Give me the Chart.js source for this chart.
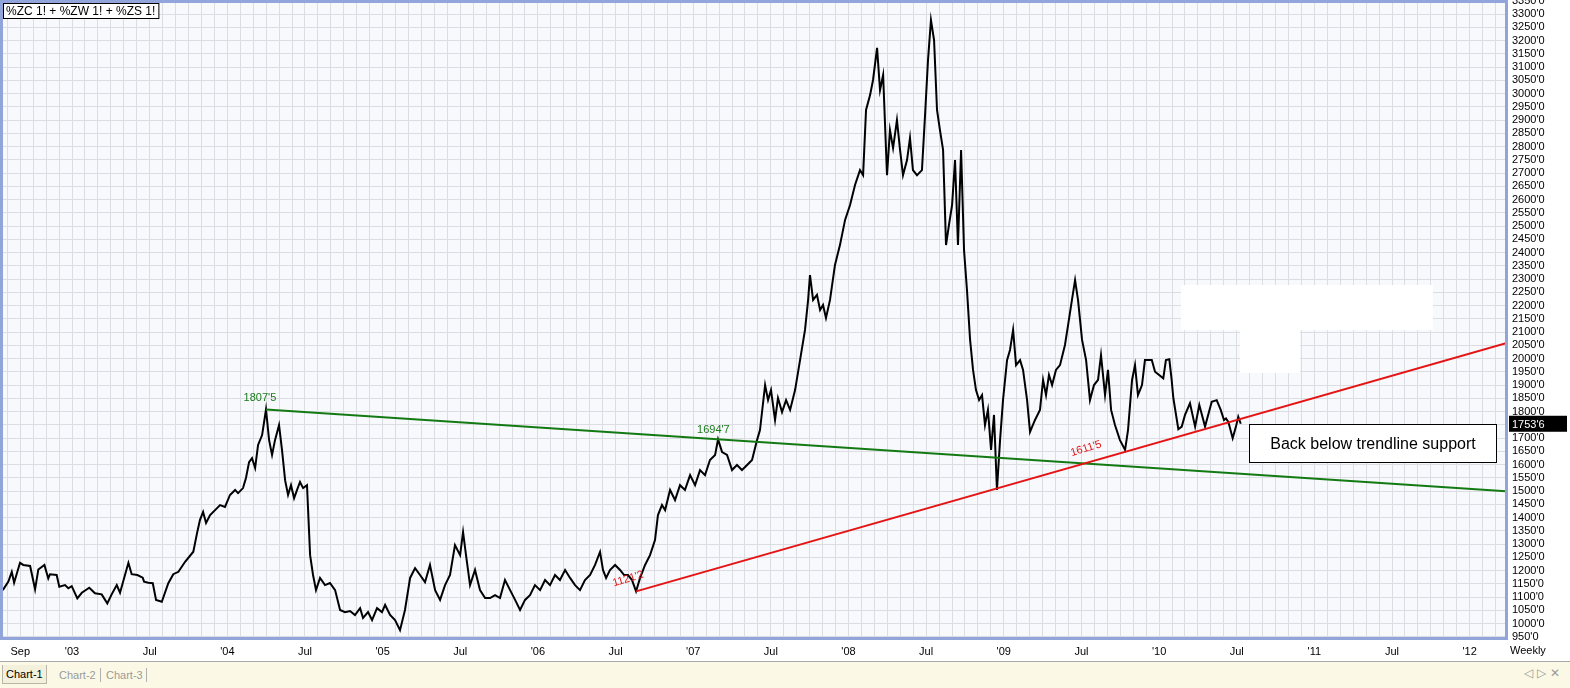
<!DOCTYPE html>
<html><head><meta charset="utf-8">
<script src="https://cdn.jsdelivr.net/npm/chart.js@4/dist/chart.umd.min.js"></script>
<style>
html,body{margin:0;padding:0;background:#fff;width:1570px;height:688px;overflow:hidden;font-family:'Liberation Sans',Arial,sans-serif}
#wrap{position:absolute;left:0;top:0;width:1570px;height:662px}
#tabs{position:absolute;left:0;top:661px;width:1570px;height:27px;background:#fbf9e6;border-top:1px solid #a8a8a8;box-sizing:border-box;font-size:11px}
.tab{position:absolute;top:4px;height:18px;line-height:18px;color:#9a9a9a;padding:0 3px}
.tab.sel{color:#000;background:#f3f0dc;border:1px solid #b8b6a6;border-top:none;top:3px}
.sep{position:absolute;top:6px;width:1px;height:14px;background:#b0b0b0}
#nav{position:absolute;right:6px;top:4px;color:#9a9a9a;font-size:12px;letter-spacing:4px}
</style></head>
<body>
<div id="wrap"><canvas id="c" width="1570" height="662"></canvas></div>
<div id="tabs">
 <span class="tab sel" style="left:2px">Chart-1</span>
 <span class="tab" style="left:56px">Chart-2</span><span class="sep" style="left:100px"></span>
 <span class="tab" style="left:103px">Chart-3</span><span class="sep" style="left:146px"></span>
 <span id="nav">◁▷✕</span>
</div>
<script>
// ---- data (decimal year, price) ----
const dates = [2002.554,2002.590,2002.612,2002.627,2002.665,2002.686,2002.730,2002.762,2002.783,2002.822,
2002.847,2002.858,2002.901,2002.918,2002.955,2002.976,2002.998,2003.034,2003.063,2003.111,
2003.148,2003.191,2003.227,2003.256,2003.288,2003.309,2003.363,2003.384,2003.421,2003.455,
2003.464,2003.491,2003.520,2003.541,2003.578,2003.620,2003.652,2003.685,2003.728,2003.781,
2003.805,2003.824,2003.844,2003.863,2003.889,2003.921,2003.953,2003.985,2004.017,2004.050,
2004.069,2004.101,2004.120,2004.140,2004.159,2004.179,2004.198,2004.224,2004.249,2004.269,
2004.288,2004.307,2004.333,2004.352,2004.372,2004.391,2004.410,2004.430,2004.449,2004.468,
2004.488,2004.513,2004.533,2004.552,2004.571,2004.597,2004.629,2004.661,2004.694,2004.726,
2004.758,2004.790,2004.822,2004.855,2004.874,2004.906,2004.932,2004.964,2004.996,2005.016,
2005.048,2005.080,2005.112,2005.144,2005.177,2005.209,2005.241,2005.273,2005.305,2005.338,
2005.370,2005.402,2005.434,2005.466,2005.499,2005.518,2005.537,2005.563,2005.595,2005.627,
2005.660,2005.692,2005.724,2005.756,2005.788,2005.821,2005.853,2005.885,2005.917,2005.949,
2005.981,2006.014,2006.046,2006.078,2006.110,2006.142,2006.175,2006.207,2006.239,2006.271,
2006.303,2006.336,2006.368,2006.400,2006.419,2006.439,2006.464,2006.497,2006.529,2006.555,
2006.580,2006.606,2006.632,2006.658,2006.690,2006.722,2006.754,2006.773,2006.799,2006.819,
2006.851,2006.883,2006.915,2006.947,2006.980,2007.012,2007.044,2007.076,2007.108,2007.141,
2007.160,2007.186,2007.218,2007.250,2007.282,2007.314,2007.347,2007.379,2007.411,2007.430,
2007.463,2007.482,2007.501,2007.527,2007.546,2007.572,2007.598,2007.624,2007.656,2007.688,
2007.720,2007.740,2007.752,2007.772,2007.797,2007.817,2007.836,2007.855,2007.881,2007.913,
2007.945,2007.978,2008.010,2008.042,2008.074,2008.094,2008.113,2008.139,2008.158,2008.184,
2008.203,2008.223,2008.248,2008.267,2008.287,2008.312,2008.332,2008.351,2008.377,2008.396,
2008.415,2008.441,2008.473,2008.493,2008.512,2008.531,2008.551,2008.570,2008.589,2008.609,
2008.628,2008.647,2008.667,2008.686,2008.705,2008.725,2008.744,2008.763,2008.783,2008.802,
2008.821,2008.841,2008.860,2008.879,2008.898,2008.918,2008.937,2008.956,2008.976,2008.995,
2009.021,2009.040,2009.060,2009.079,2009.105,2009.124,2009.150,2009.169,2009.201,2009.233,
2009.253,2009.272,2009.291,2009.311,2009.336,2009.362,2009.394,2009.414,2009.439,2009.459,
2009.478,2009.504,2009.530,2009.555,2009.581,2009.607,2009.626,2009.652,2009.671,2009.691,
2009.716,2009.748,2009.781,2009.800,2009.826,2009.845,2009.864,2009.890,2009.909,2009.953,
2009.974,2010.027,2010.044,2010.066,2010.081,2010.092,2010.124,2010.146,2010.167,2010.199,
2010.232,2010.259,2010.296,2010.339,2010.371,2010.397,2010.418,2010.431,2010.446,2010.474,
2010.495,2010.510,2010.526];
const prices = [1126,1158,1195,1154,1229,1221,1217,1129,1204,1221,
1170,1186,1183,1139,1145,1133,1141,1095,1116,1135,
1114,1110,1076,1111,1145,1116,1229,1186,1183,1173,
1158,1154,1152,1089,1082,1152,1186,1195,1233,1271,
1341,1391,1421,1379,1409,1428,1447,1440,1485,1504,
1492,1511,1549,1609,1624,1587,1674,1711,1807.5,1692,
1636,1692,1749,1655,1541,1485,1522,1473,1504,1534,
1511,1522,1258,1183,1126,1172,1145,1153,1126,1051,
1043,1047,1032,1058,1021,1043,1013,1058,1043,1070,
1032,1013,975,1051,1172,1209,1183,1156,1221,1126,
1089,1145,1183,1296,1258,1345,1258,1145,1202,1126,
1096,1096,1107,1096,1164,1126,1089,1051,1089,1107,
1145,1126,1164,1145,1183,1164,1202,1172,1145,1126,
1164,1183,1221,1270,1202,1172,1202,1221,1202,1183,
1183,1164,1121.25,1172,1221,1258,1315,1409,1447,1428,
1504,1466,1522,1504,1560,1522,1579,1560,1617,1636,
1694.875,1647,1636,1579,1598,1579,1598,1617,1692,1730,
1900,1843,1881,1768,1851,1798,1843,1806,1881,1994,
2108,2221,2315,2221,2240,2183,2202,2153,2221,2353,
2428,2523,2579,2655,2711,2692,2938,2994,3051,3172,
3013,3070,2692,2862,2794,2900,2787,2692,2749,2832,
2711,2692,2711,2919,3126,3277,3202,2938,2862,2787,
2428,2504,2579,2749,2428,2787,2409,2258,2070,1957,
1881,1843,1862,1749,1806,1655,1787,1504,1692,1843,
1994,2032,2108,1975,1994,1957,1843,1723,1768,1806,
1919,1862,1938,1900,1957,1975,2051,2126,2221,2296,
2221,2070,1994,1843,1900,1919,2013,1862,1957,1806,
1749,1692,1655,1730,1919,1975,1862,1900,1994,1994,
1950,1925,1994,1997,1919,1850,1733,1743,1787,1831,
1743,1825,1743,1837,1843,1806,1768,1774,1761,1699,
1743,1780,1753.75];
const lastPriceText = "1753'6";
// trendlines (decimal year, price)
const greenTrendX = [2004.249, 2012.234];
const greenTrendY = [1807.5, 1498.6];
const redTrendX = [2006.632, 2012.234];
const redTrendY = [1121.25, 2058];
// point labels
const pointLabelText = ["1807'5", "1694'7", "1611'5", "1121'2"];
const pointLabelX = [2004.21, 2007.13, 2009.53, 2006.58];
const pointLabelY = [1850, 1730, 1660, 1168];
const pointLabelColor = ['#1a7a1a', '#1a7a1a', '#e01818', '#e01818'];
const pointLabelAngle = [0, 0, -17, -17];
// x tick labels
const xLabelPos = [2002+8/12, 2003, 2003.5, 2004, 2004.5, 2005, 2005.5, 2006, 2006.5, 2007, 2007.5,
  2008, 2008.5, 2009, 2009.5, 2010, 2010.5, 2011, 2011.5, 2012];
const xLabelText = ['Sep', "'03", 'Jul', "'04", 'Jul', "'05", 'Jul', "'06", 'Jul', "'07", 'Jul',
  "'08", 'Jul', "'09", 'Jul', "'10", 'Jul', "'11", 'Jul', "'12"];
const xMin = 2002.549, xMax = 2012.234;
const yMin = 945.3, yMax = 3345.3, yStep = 50;
const legendText = '%ZC 1! + %ZW 1! + %ZS 1!';
const noteText = 'Back below trendline support';
const noteBox = {x0: 2010.579, x1: 2012.169, y0: 1753, y1: 1609};
// blanked (white) areas of the plot, in data units
const blankX0 = [2010.141, 2010.521], blankX1 = [2011.764, 2010.908];
const blankY0 = [2277, 2107], blankY1 = [2107, 1945];

const monthTicks = [];
for (let y = 2002; y <= 2012; y++) for (let m = 0; m < 12; m++) {
  const v = y + m / 12; if (v >= xMin && v <= xMax) monthTicks.push(v);
}
const yTicks = [];
for (let v = 950; v <= 3350; v += yStep) yTicks.push(v);

const FONT = "'Liberation Sans', Arial, sans-serif";

const deco = {
  id: 'deco',
  beforeDraw(chart) {
    const {ctx, chartArea: a} = chart;
    ctx.save();
    ctx.fillStyle = '#f8f9fd';
    ctx.fillRect(a.left, a.top, a.width, a.height);
    ctx.restore();
  },
  beforeDatasetsDraw(chart) {
    const {ctx, scales: {x, y}} = chart;
    ctx.save();
    ctx.fillStyle = '#ffffff';
    blankX0.forEach((v, i) => {
      const px0 = x.getPixelForValue(v), px1 = x.getPixelForValue(blankX1[i]);
      const py0 = y.getPixelForValue(blankY0[i]), py1 = y.getPixelForValue(blankY1[i]);
      ctx.fillRect(px0, py0, px1 - px0, py1 - py0);
    });
    ctx.restore();
  },
  afterDatasetsDraw(chart) {
    const {ctx, chartArea: a, scales: {x, y}} = chart;
    ctx.save();
    // point labels
    ctx.font = '11px ' + FONT;
    ctx.textAlign = 'center'; ctx.textBaseline = 'middle';
    pointLabelText.forEach((t, i) => {
      ctx.save();
      ctx.translate(x.getPixelForValue(pointLabelX[i]), y.getPixelForValue(pointLabelY[i]));
      ctx.rotate(pointLabelAngle[i] * Math.PI / 180);
      ctx.fillStyle = pointLabelColor[i];
      ctx.fillText(t, 0, 0);
      ctx.restore();
    });
    // note box
    const bx0 = Math.round(x.getPixelForValue(noteBox.x0)) + 0.5, bx1 = Math.round(x.getPixelForValue(noteBox.x1)) + 0.5;
    const by0 = Math.round(y.getPixelForValue(noteBox.y0)) + 0.5, by1 = Math.round(y.getPixelForValue(noteBox.y1)) + 0.5;
    ctx.fillStyle = '#fff'; ctx.fillRect(bx0, by0, bx1 - bx0, by1 - by0);
    ctx.strokeStyle = '#000'; ctx.lineWidth = 1; ctx.strokeRect(bx0, by0, bx1 - bx0, by1 - by0);
    ctx.fillStyle = '#000'; ctx.font = '16px ' + FONT; ctx.textAlign = 'center';
    ctx.fillText(noteText, (bx0 + bx1) / 2, (by0 + by1) / 2 + 1);
    // legend box
    ctx.font = '12px ' + FONT; ctx.textAlign = 'left';
    const lw = ctx.measureText(legendText).width;
    ctx.fillStyle = '#fff'; ctx.fillRect(3.5, 3.5, lw + 6, 15);
    ctx.strokeStyle = '#000'; ctx.strokeRect(3.5, 3.5, lw + 6, 15);
    ctx.fillStyle = '#000'; ctx.fillText(legendText, 6, 11.5);
    // frame
    ctx.strokeStyle = '#92a5da'; ctx.lineWidth = 3;
    ctx.strokeRect(a.left - 0.5, a.top - 0.5, a.width + 1, a.height + 1);
    // hide bottom partial label area and draw Weekly
    ctx.fillStyle = '#fff';
    ctx.fillRect(a.right + 2, a.bottom + 2, chart.width - a.right - 2, chart.height - a.bottom - 2);
    ctx.fillStyle = '#000'; ctx.font = '11px ' + FONT; ctx.textAlign = 'left';
    ctx.fillText('Weekly', a.right + 4, a.bottom + 13);
    // last price tag
    const py = y.getPixelForValue(prices[prices.length - 1]);
    ctx.fillStyle = '#000'; ctx.fillRect(a.right + 3, py - 8, 58, 16);
    ctx.fillStyle = '#fff'; ctx.fillText(lastPriceText, a.right + 6, py + 1);
    ctx.restore();
  }
};

new Chart(document.getElementById('c'), {
  type: 'line',
  data: {
    datasets: [
      {data: redTrendX.map((v, i) => ({x: v, y: redTrendY[i]})), borderColor: '#e41414', borderWidth: 2, pointRadius: 0, tension: 0},
      {data: greenTrendX.map((v, i) => ({x: v, y: greenTrendY[i]})), borderColor: '#137a13', borderWidth: 2, pointRadius: 0, tension: 0},
      {data: dates.map((v, i) => ({x: v, y: prices[i]})), borderColor: '#000', borderWidth: 2, pointRadius: 0, tension: 0, borderJoinStyle: 'miter'}
    ]
  },
  options: {
    responsive: false, animation: false,
    layout: {padding: {left: 2, top: 2, right: 0, bottom: 0}},
    plugins: {legend: {display: false}, tooltip: {enabled: false}},
    scales: {
      x: {
        type: 'linear', position: 'bottom', min: xMin, max: xMax,
        border: {display: false},
        grid: {color: '#dcdde2', drawTicks: false, lineWidth: 1, borderDash: [1, 2]},
        afterBuildTicks: s => { s.ticks = monthTicks.map(v => ({value: v})); },
        afterFit: s => { s.height = 24; s.paddingLeft = 0; s.paddingRight = 0; },
        ticks: {
          autoSkip: false, maxRotation: 0, padding: 7, color: '#000', font: {family: FONT, size: 11},
          callback: v => { const i = xLabelPos.findIndex(p => Math.abs(p - v) < 1e-6); return i >= 0 ? xLabelText[i] : ''; }
        }
      },
      y: {
        type: 'linear', position: 'right', min: yMin, max: yMax,
        border: {display: false},
        grid: {color: '#dcdde2', drawTicks: false, lineWidth: 1, borderDash: [1, 2]},
        afterBuildTicks: s => { s.ticks = yTicks.map(v => ({value: v})); },
        afterFit: s => { s.width = 64; s.paddingTop = 0; s.paddingBottom = 0; },
        ticks: {
          autoSkip: false, padding: 6, color: '#000', font: {family: FONT, size: 11},
          callback: v => v + "'0"
        }
      }
    }
  },
  plugins: [deco]
});
</script>
</body></html>
